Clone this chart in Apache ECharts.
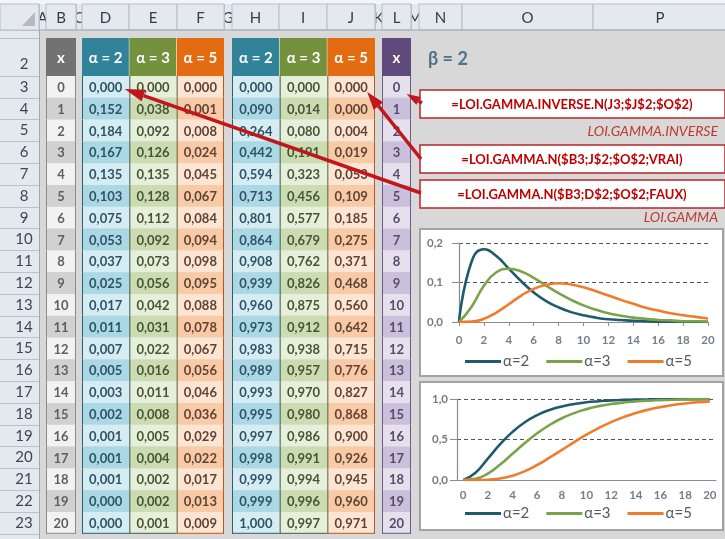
<!DOCTYPE html>
<html>
<head>
<meta charset="utf-8">
<script src="https://cdn.jsdelivr.net/npm/echarts@6/dist/echarts.min.js"></script>
<style>
  html, body { margin: 0; padding: 0; background: #fff; }
  #main { width: 725px; height: 539px; }
</style>
</head>
<body>
<div id="main"></div>
<script>
// ---- data ----
const xs = ['0','1','2','3','4','5','6','7','8','9','10','11','12','13','14','15','16','17','18','19','20'];
const rowNumbers = ['3','4','5','6','7','8','9','10','11','12','13','14','15','16','17','18','19','20','21','22','23'];
const alphaHeaders = ['α = 2', 'α = 3', 'α = 5'];
const seriesNames = ['α=2', 'α=3', 'α=5'];

// densité (LOI.GAMMA ... FAUX)
const pdf2 = [0.000,0.152,0.184,0.167,0.135,0.103,0.075,0.053,0.037,0.025,0.017,0.011,0.007,0.005,0.003,0.002,0.001,0.001,0.001,0.000,0.000];
const pdf3 = [0.000,0.038,0.092,0.126,0.135,0.128,0.112,0.092,0.073,0.056,0.042,0.031,0.022,0.016,0.011,0.008,0.005,0.004,0.002,0.002,0.001];
const pdf5 = [0.000,0.001,0.008,0.024,0.045,0.067,0.084,0.094,0.098,0.095,0.088,0.078,0.067,0.056,0.046,0.036,0.029,0.022,0.017,0.013,0.009];
// cumulative (LOI.GAMMA ... VRAI)
const cdf2 = [0.000,0.090,0.264,0.442,0.594,0.713,0.801,0.864,0.908,0.939,0.960,0.973,0.983,0.989,0.993,0.995,0.997,0.998,0.999,0.999,1.000];
const cdf3 = [0.000,0.014,0.080,0.191,0.323,0.456,0.577,0.679,0.762,0.826,0.875,0.912,0.938,0.957,0.970,0.980,0.986,0.991,0.994,0.996,0.997];
const cdf5 = [0.000,0.000,0.004,0.019,0.053,0.109,0.185,0.275,0.371,0.468,0.560,0.642,0.715,0.776,0.827,0.868,0.900,0.926,0.945,0.960,0.971];

const formulas = ['=LOI.GAMMA.INVERSE.N(J3;$J$2;$O$2)', '=LOI.GAMMA.N($B3;J$2;$O$2;VRAI)', '=LOI.GAMMA.N($B3;D$2;$O$2;FAUX)'];
const funcNames = ['LOI.GAMMA.INVERSE', 'LOI.GAMMA'];
const betaLabel = 'β = 2';
const colLetters = ['A','B','C','D','E','F','G','H','I','J','K','L','M','N','O','P'];
const colBounds = [39, 46, 76, 82, 129, 177, 224, 232, 279, 327, 375, 382, 411, 419, 462, 593, 727];

// ---- layout / styles ----
const FONT = 'Lato, "DejaVu Sans", sans-serif';
const RED = '#c2161d';
const ROW_TOP = 76, ROW_H = 21.8, HEAD_TOP = 38;
const BODY_H = ROW_H * xs.length;
const lineColors = ['#1f5b6c', '#7aa34a', '#f07b2a'];

const blocks = [
  { left: 46, width: 30, cols: ['B'], heads: ['x'], values: [xs],
    head: ['#727272'], light: ['#f2f2f2'], dark: ['#d1d1d1'], text: ['#5f5f5f'],
    edge: ['#8a8a8a'], rightEdge: '#8a8a8a' },
  { left: 82, width: 142, cols: ['D','E','F'], heads: alphaHeaders, values: [pdf2, pdf3, pdf5],
    head: ['#31839a','#74913d','#e36c12'], light: ['#d5ecf3','#e6efda','#fde5d4'], dark: ['#aad8e5','#cbdcb2','#f9caa6'],
    text: ['#2f5366','#475535','#5f4336'], edge: ['#2b6071','#3f5a4c','#556537'], rightEdge: '#b5581e' },
  { left: 232, width: 143, cols: ['H','I','J'], heads: alphaHeaders, values: [cdf2, cdf3, cdf5],
    head: ['#31839a','#74913d','#e36c12'], light: ['#d5ecf3','#e6efda','#fde5d4'], dark: ['#aad8e5','#cbdcb2','#f9caa6'],
    text: ['#2f5366','#475535','#5f4336'], edge: ['#2b6071','#3f5a4c','#556537'], rightEdge: '#b5581e' },
  { left: 382, width: 29, cols: ['L'], heads: ['x'], values: [xs],
    head: ['#5f4a7b'], light: ['#e5e0ec'], dark: ['#cbc0dc'], text: ['#544c6c'],
    edge: ['#6a5a8a'], rightEdge: '#6a5a8a' }
];

function fmt(v) {
  return typeof v === 'number' ? v.toFixed(3).replace('.', ',') : v;
}

function bodyRender(b) {
  return function (params, api) {
    const c = api.value(0), r = api.value(1);
    const p = api.coord([c, r]);
    const s = api.size([1, 1]);
    const x0 = p[0] - s[0] / 2, y0 = p[1] - s[1] / 2;
    const children = [
      { type: 'rect', shape: { x: x0, y: y0, width: s[0], height: s[1] },
        style: { fill: r % 2 ? b.dark[c] : b.light[c] } },
      { type: 'line', shape: { x1: x0 + 0.5, y1: y0, x2: x0 + 0.5, y2: y0 + s[1] },
        style: { stroke: b.edge[c], lineWidth: 1 } },
      { type: 'text', style: { text: fmt(b.values[c][r]), x: p[0], y: p[1] + 1,
        align: 'center', verticalAlign: 'middle', textAlign: 'center', textVerticalAlign: 'middle',
        font: 'bold 13px ' + FONT, fill: b.text[c] } }
    ];
    if (c === b.cols.length - 1) {
      children.push({ type: 'line', shape: { x1: x0 + s[0] - 0.5, y1: y0, x2: x0 + s[0] - 0.5, y2: y0 + s[1] },
        style: { stroke: b.rightEdge, lineWidth: 1 } });
    }
    if (r === xs.length - 1) {
      children.push({ type: 'line', shape: { x1: x0, y1: y0 + s[1] - 0.5, x2: x0 + s[0], y2: y0 + s[1] - 0.5 },
        style: { stroke: c === b.cols.length - 1 ? b.rightEdge : b.edge[c], lineWidth: 1 } });
    }
    return { type: 'group', children };
  };
}

function headRender(b) {
  return function (params, api) {
    const c = api.value(0);
    const p = api.coord([c, 0]);
    const s = api.size([1, 1]);
    const x0 = p[0] - s[0] / 2, y0 = p[1] - s[1] / 2;
    const children = [
      { type: 'rect', shape: { x: x0, y: y0, width: s[0], height: s[1] }, style: { fill: b.head[c] } },
      { type: 'text', style: { text: b.heads[c], x: p[0], y: p[1] + 1,
        align: 'center', verticalAlign: 'middle', textAlign: 'center', textVerticalAlign: 'middle',
        font: 'bold 15px ' + FONT, fill: '#ffffff' } }
    ];
    if (c < b.cols.length - 1) {
      children.push({ type: 'line', shape: { x1: x0 + s[0], y1: y0, x2: x0 + s[0], y2: y0 + s[1] },
        style: { stroke: '#ffffff', lineWidth: 1 } });
    }
    return { type: 'group', children };
  };
}

const grids = [], xAxes = [], yAxes = [], series = [];
blocks.forEach(function (b, i) {
  grids.push({ left: b.left, top: ROW_TOP, width: b.width, height: BODY_H });
  xAxes.push({ type: 'category', gridIndex: i, data: b.cols, show: false });
  yAxes.push({ type: 'category', gridIndex: i, data: xs, inverse: true, show: false });
  const cells = [];
  b.cols.forEach(function (col, c) { xs.forEach(function (x, r) { cells.push([c, r]); }); });
  series.push({ type: 'custom', xAxisIndex: i, yAxisIndex: i, data: cells, renderItem: bodyRender(b), silent: true });
});
blocks.forEach(function (b, i) {
  const gi = blocks.length + i;
  grids.push({ left: b.left, top: HEAD_TOP, width: b.width, height: ROW_TOP - HEAD_TOP });
  xAxes.push({ type: 'category', gridIndex: gi, data: b.cols, show: false });
  yAxes.push({ type: 'category', gridIndex: gi, data: ['h'], show: false });
  series.push({ type: 'custom', xAxisIndex: gi, yAxisIndex: gi, data: b.cols.map(function (c, k) { return [k, 0]; }),
    renderItem: headRender(b), silent: true });
});

// row numbers of the sheet drawn by the first body y axis
yAxes[0] = {
  type: 'category', gridIndex: 0, data: xs, inverse: true, show: true, offset: 7,
  axisLine: { show: false },
  axisTick: { show: true, length: 39, lineStyle: { color: '#b9c1cc' } },
  axisLabel: { formatter: function (v, i) { return rowNumbers[i]; }, align: 'center', margin: 15,
    color: '#3c4656', fontSize: 15, fontFamily: FONT, verticalAlign: 'middle' },
  splitLine: { show: false }
};

// two small charts
grids.push({ left: 459, top: 243, width: 249, height: 79 });
grids.push({ left: 457, top: 399, width: 259, height: 81 });
const axisGray = '#8c8c8c';
function catAxis(gi, gap, margin) {
  return { type: 'category', gridIndex: gi, data: xs, boundaryGap: gap,
    axisLine: { lineStyle: { color: axisGray, width: 1.2 } },
    axisTick: { interval: 1, length: 4, lineStyle: { color: axisGray } },
    axisLabel: { interval: 1, margin: margin, color: '#737e8b', fontWeight: 'bold', fontSize: 11.5, fontFamily: FONT } };
}
function valAxis(gi, max, step, digits, margin) {
  return { type: 'value', gridIndex: gi, min: 0, max: max, interval: step,
    axisLine: { show: true, lineStyle: { color: axisGray, width: 1.2 } },
    axisTick: { show: true, length: 7, lineStyle: { color: axisGray } },
    splitLine: { lineStyle: { color: '#555555', type: [4, 3], width: 1 } },
    axisLabel: { margin: margin, color: '#7a7a7a', fontWeight: 'bold', fontSize: 11.5, fontFamily: FONT,
      formatter: function (v) { return v.toFixed(digits).replace('.', ','); } } };
}
xAxes.push(catAxis(8, false, 12));
xAxes.push(catAxis(9, true, 9));
yAxes.push(valAxis(8, 0.2, 0.1, 1, 16));
yAxes.push(valAxis(9, 1, 0.5, 1, 9));

[[pdf2, pdf3, pdf5], [cdf2, cdf3, cdf5]].forEach(function (set, k) {
  set.forEach(function (d, j) {
    series.push({ type: 'line', name: seriesNames[j], xAxisIndex: 8 + k, yAxisIndex: 8 + k, data: d,
      smooth: true, showSymbol: false, symbol: 'none', silent: true,
      lineStyle: { color: lineColors[j], width: 2.6 }, itemStyle: { color: lineColors[j] } });
  });
});

function legendAt(top) {
  return { data: seriesNames, left: 460, top: top, icon: 'rect', itemWidth: 36, itemHeight: 3,
    itemGap: 17, selectedMode: false,
    textStyle: { fontSize: 15, color: '#595959', fontFamily: FONT, padding: [0, 0, 0, -3] } };
}

const option = {
  animation: false,
  grid: grids,
  xAxis: xAxes,
  yAxis: yAxes,
  legend: [legendAt(349), legendAt(501)],
  series: series
};

const chart = echarts.init(document.getElementById('main'));
chart.setOption(option);

// ---- sheet chrome and annotations ----
const HDR_BG = '#e4e9f0', HDR_LINE = '#b6bec9';
const g = [];
g.push({ type: 'rect', shape: { x: 0, y: 0, width: 725, height: 539 }, style: { fill: '#d8d8d8' }, z: -10 });
g.push({ type: 'rect', shape: { x: 0, y: 0, width: 725, height: 4 }, style: { fill: '#f3f5f8' }, z: -9 });
g.push({ type: 'rect', shape: { x: 0, y: 4, width: 725, height: 26 }, style: { fill: HDR_BG }, z: -9 });
colLetters.forEach(function (L, i) {
  const x0 = colBounds[i], x1 = colBounds[i + 1];
  const narrow = x1 - x0 < 12;
  if (!narrow) {
    g.push({ type: 'rect', shape: { x: x0, y: 4, width: x1 - x0, height: 26 },
      style: { fill: HDR_BG, stroke: HDR_LINE, lineWidth: 1 }, z: -7 });
  } else {
    g.push({ type: 'line', shape: { x1: x0 + 0.5, y1: 4, x2: x0 + 0.5, y2: 30 }, style: { stroke: HDR_LINE }, z: -7 });
  }
  g.push({ type: 'text', z: narrow ? -8 : -6,
    style: { text: L, x: (x0 + x1) / 2, y: 18, textAlign: 'center', textVerticalAlign: 'middle',
      align: 'center', verticalAlign: 'middle', font: '15px ' + FONT, fill: '#333c48' } });
});
g.push({ type: 'line', shape: { x1: 0, y1: 30, x2: 725, y2: 30 }, style: { stroke: '#9ea8b5', lineWidth: 1 }, z: -5 });
g.push({ type: 'rect', shape: { x: 0, y: 4, width: 39, height: 26 }, style: { fill: HDR_BG, stroke: HDR_LINE }, z: -5 });
g.push({ type: 'polygon', shape: { points: [[22, 26], [35, 26], [35, 12]] }, style: { fill: '#b7b9bc' }, z: -4 });
g.push({ type: 'rect', shape: { x: 0, y: 30, width: 39, height: 509 }, style: { fill: HDR_BG }, z: -9 });
g.push({ type: 'line', shape: { x1: 0, y1: 38.5, x2: 39, y2: 38.5 }, style: { stroke: HDR_LINE }, z: -5 });
g.push({ type: 'line', shape: { x1: 39.5, y1: 30, x2: 39.5, y2: 539 }, style: { stroke: '#9ea8b5' }, z: -5 });
g.push({ type: 'text', z: -5, style: { text: '2', x: 24, y: 64, textAlign: 'center', textVerticalAlign: 'middle',
  align: 'center', verticalAlign: 'middle', font: '15px ' + FONT, fill: '#3c4656' } });

// chart panels
g.push({ type: 'rect', shape: { x: 420, y: 229, width: 303, height: 147 }, style: { fill: '#ffffff', stroke: '#a3a3a3', lineWidth: 2 }, z: -5 });
g.push({ type: 'rect', shape: { x: 420, y: 382, width: 303, height: 148 }, style: { fill: '#ffffff', stroke: '#a3a3a3', lineWidth: 2 }, z: -5 });

// beta + formula boxes
g.push({ type: 'text', z: 50, style: { text: betaLabel, x: 428, y: 59, textAlign: 'left', textVerticalAlign: 'middle',
  align: 'left', verticalAlign: 'middle', font: 'bold 18px ' + FONT, fill: '#4b7488' } });
const boxTops = [90, 145, 180];
formulas.forEach(function (f, i) {
  g.push({ type: 'rect', z: 50, shape: { x: 420, y: boxTops[i], width: 305, height: 28 },
    style: { fill: '#ffffff', stroke: '#b8262b', lineWidth: 1.5 } });
  g.push({ type: 'text', z: 51, style: { text: f, x: 572, y: boxTops[i] + 14.5, textAlign: 'center', textVerticalAlign: 'middle',
    align: 'center', verticalAlign: 'middle', font: 'bold 13px ' + FONT, fill: '#c00000' } });
});
[131, 217].forEach(function (y, i) {
  g.push({ type: 'text', z: 50, style: { text: funcNames[i], x: 718, y: y, textAlign: 'right', textVerticalAlign: 'middle',
    align: 'right', verticalAlign: 'middle', font: 'italic 14px ' + FONT, fill: '#c0392b' } });
});

// arrows pointing at cells D3, J3, L3
function arrow(tail, tip, headLen, headW) {
  const dx = tip[0] - tail[0], dy = tip[1] - tail[1], len = Math.hypot(dx, dy);
  const ux = dx / len, uy = dy / len;
  const base = [tip[0] - ux * headLen, tip[1] - uy * headLen];
  const px = -uy * headW, py = ux * headW;
  const els = [];
  if (len > headLen) {
    els.push({ type: 'line', z: 60, shape: { x1: tail[0], y1: tail[1], x2: base[0], y2: base[1] },
      style: { stroke: RED, lineWidth: 3.5 } });
  }
  els.push({ type: 'polygon', z: 60, shape: { points: [tip, [base[0] + px, base[1] + py], [base[0] - px, base[1] - py]] },
    style: { fill: RED } });
  return els;
}
const d3 = chart.convertToPixel({ gridIndex: 1 }, [0, 0]);
const j3 = chart.convertToPixel({ gridIndex: 2 }, [2, 0]);
const l3 = chart.convertToPixel({ gridIndex: 3 }, [0, 0]);
arrow([421, 193], [d3[0] + 19, d3[1] + 2], 20, 6).forEach(function (e) { g.push(e); });
arrow([421, 159], [j3[0] + 16, j3[1] + 5], 18, 6).forEach(function (e) { g.push(e); });
arrow([422, 103], [l3[0] + 10, l3[1] + 7], 14, 4.5).forEach(function (e) { g.push(e); });

chart.setOption({ graphic: { elements: g } });
</script>
</body>
</html>
